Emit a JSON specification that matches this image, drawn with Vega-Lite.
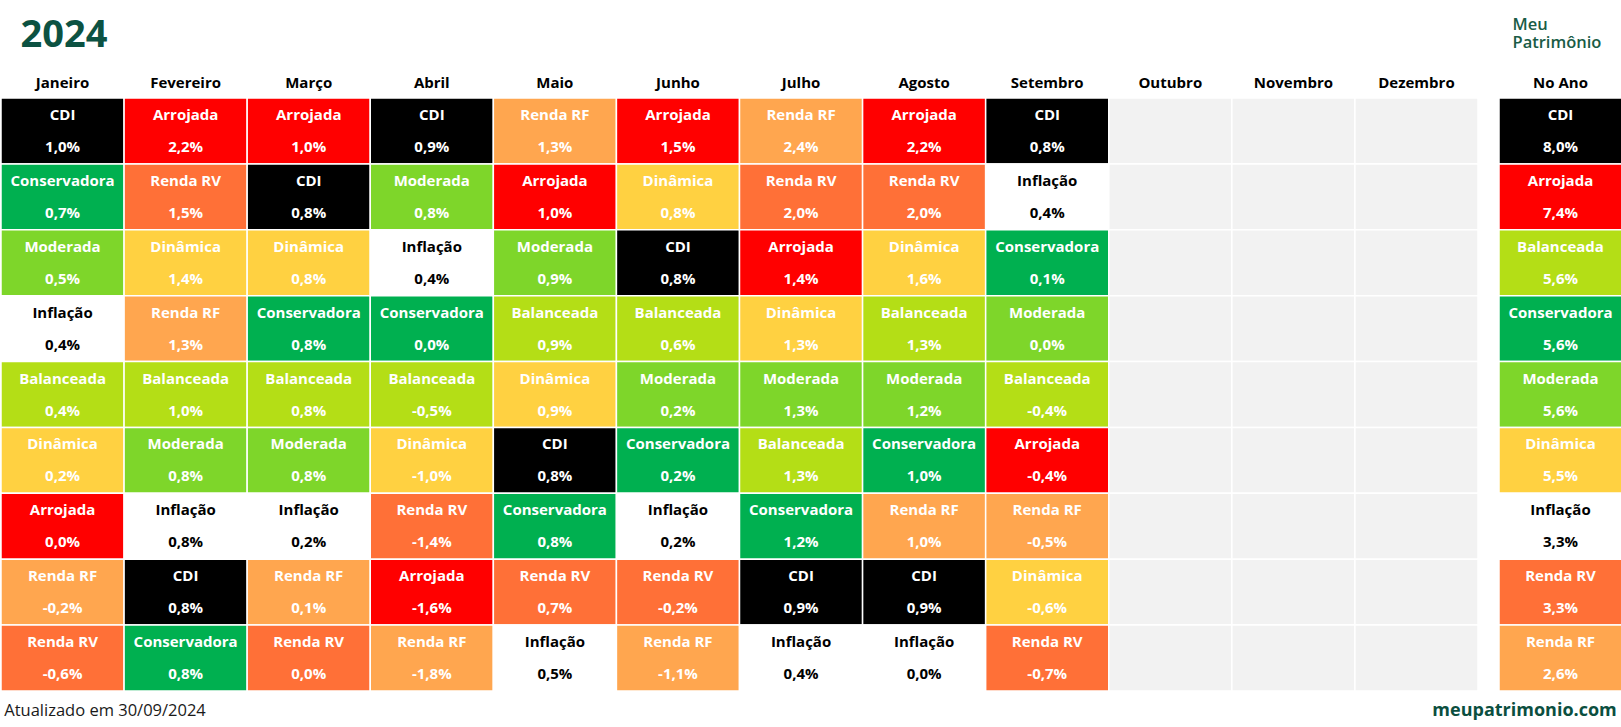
{
  "$schema": "https://vega.github.io/schema/vega-lite/v6.json",
  "padding": {"top": 16, "left": 0, "right": 0, "bottom": 0},
  "autosize": {"type": "pad"},
  "background": "white",
  "bounds": "flush",
  "spacing": 21,
  "config": {
    "font": "Open Sans",
    "view": {"stroke": null},
    "locale": {"number": {"decimal": ",", "thousands": ".", "grouping": [3], "currency": ["R$ ", ""], "minus": "-"}}
  },
  "datasets": {
    "meses": [
      {"mes": "Janeiro", "pos": 1, "nome": "CDI", "ret": 0.010},
      {"mes": "Janeiro", "pos": 2, "nome": "Conservadora", "ret": 0.007},
      {"mes": "Janeiro", "pos": 3, "nome": "Moderada", "ret": 0.005},
      {"mes": "Janeiro", "pos": 4, "nome": "Inflação", "ret": 0.004},
      {"mes": "Janeiro", "pos": 5, "nome": "Balanceada", "ret": 0.004},
      {"mes": "Janeiro", "pos": 6, "nome": "Dinâmica", "ret": 0.002},
      {"mes": "Janeiro", "pos": 7, "nome": "Arrojada", "ret": 0.000},
      {"mes": "Janeiro", "pos": 8, "nome": "Renda RF", "ret": -0.002},
      {"mes": "Janeiro", "pos": 9, "nome": "Renda RV", "ret": -0.006},
      {"mes": "Fevereiro", "pos": 1, "nome": "Arrojada", "ret": 0.022},
      {"mes": "Fevereiro", "pos": 2, "nome": "Renda RV", "ret": 0.015},
      {"mes": "Fevereiro", "pos": 3, "nome": "Dinâmica", "ret": 0.014},
      {"mes": "Fevereiro", "pos": 4, "nome": "Renda RF", "ret": 0.013},
      {"mes": "Fevereiro", "pos": 5, "nome": "Balanceada", "ret": 0.010},
      {"mes": "Fevereiro", "pos": 6, "nome": "Moderada", "ret": 0.008},
      {"mes": "Fevereiro", "pos": 7, "nome": "Inflação", "ret": 0.008},
      {"mes": "Fevereiro", "pos": 8, "nome": "CDI", "ret": 0.008},
      {"mes": "Fevereiro", "pos": 9, "nome": "Conservadora", "ret": 0.008},
      {"mes": "Março", "pos": 1, "nome": "Arrojada", "ret": 0.010},
      {"mes": "Março", "pos": 2, "nome": "CDI", "ret": 0.008},
      {"mes": "Março", "pos": 3, "nome": "Dinâmica", "ret": 0.008},
      {"mes": "Março", "pos": 4, "nome": "Conservadora", "ret": 0.008},
      {"mes": "Março", "pos": 5, "nome": "Balanceada", "ret": 0.008},
      {"mes": "Março", "pos": 6, "nome": "Moderada", "ret": 0.008},
      {"mes": "Março", "pos": 7, "nome": "Inflação", "ret": 0.002},
      {"mes": "Março", "pos": 8, "nome": "Renda RF", "ret": 0.001},
      {"mes": "Março", "pos": 9, "nome": "Renda RV", "ret": 0.000},
      {"mes": "Abril", "pos": 1, "nome": "CDI", "ret": 0.009},
      {"mes": "Abril", "pos": 2, "nome": "Moderada", "ret": 0.008},
      {"mes": "Abril", "pos": 3, "nome": "Inflação", "ret": 0.004},
      {"mes": "Abril", "pos": 4, "nome": "Conservadora", "ret": 0.000},
      {"mes": "Abril", "pos": 5, "nome": "Balanceada", "ret": -0.005},
      {"mes": "Abril", "pos": 6, "nome": "Dinâmica", "ret": -0.010},
      {"mes": "Abril", "pos": 7, "nome": "Renda RV", "ret": -0.014},
      {"mes": "Abril", "pos": 8, "nome": "Arrojada", "ret": -0.016},
      {"mes": "Abril", "pos": 9, "nome": "Renda RF", "ret": -0.018},
      {"mes": "Maio", "pos": 1, "nome": "Renda RF", "ret": 0.013},
      {"mes": "Maio", "pos": 2, "nome": "Arrojada", "ret": 0.010},
      {"mes": "Maio", "pos": 3, "nome": "Moderada", "ret": 0.009},
      {"mes": "Maio", "pos": 4, "nome": "Balanceada", "ret": 0.009},
      {"mes": "Maio", "pos": 5, "nome": "Dinâmica", "ret": 0.009},
      {"mes": "Maio", "pos": 6, "nome": "CDI", "ret": 0.008},
      {"mes": "Maio", "pos": 7, "nome": "Conservadora", "ret": 0.008},
      {"mes": "Maio", "pos": 8, "nome": "Renda RV", "ret": 0.007},
      {"mes": "Maio", "pos": 9, "nome": "Inflação", "ret": 0.005},
      {"mes": "Junho", "pos": 1, "nome": "Arrojada", "ret": 0.015},
      {"mes": "Junho", "pos": 2, "nome": "Dinâmica", "ret": 0.008},
      {"mes": "Junho", "pos": 3, "nome": "CDI", "ret": 0.008},
      {"mes": "Junho", "pos": 4, "nome": "Balanceada", "ret": 0.006},
      {"mes": "Junho", "pos": 5, "nome": "Moderada", "ret": 0.002},
      {"mes": "Junho", "pos": 6, "nome": "Conservadora", "ret": 0.002},
      {"mes": "Junho", "pos": 7, "nome": "Inflação", "ret": 0.002},
      {"mes": "Junho", "pos": 8, "nome": "Renda RV", "ret": -0.002},
      {"mes": "Junho", "pos": 9, "nome": "Renda RF", "ret": -0.011},
      {"mes": "Julho", "pos": 1, "nome": "Renda RF", "ret": 0.024},
      {"mes": "Julho", "pos": 2, "nome": "Renda RV", "ret": 0.020},
      {"mes": "Julho", "pos": 3, "nome": "Arrojada", "ret": 0.014},
      {"mes": "Julho", "pos": 4, "nome": "Dinâmica", "ret": 0.013},
      {"mes": "Julho", "pos": 5, "nome": "Moderada", "ret": 0.013},
      {"mes": "Julho", "pos": 6, "nome": "Balanceada", "ret": 0.013},
      {"mes": "Julho", "pos": 7, "nome": "Conservadora", "ret": 0.012},
      {"mes": "Julho", "pos": 8, "nome": "CDI", "ret": 0.009},
      {"mes": "Julho", "pos": 9, "nome": "Inflação", "ret": 0.004},
      {"mes": "Agosto", "pos": 1, "nome": "Arrojada", "ret": 0.022},
      {"mes": "Agosto", "pos": 2, "nome": "Renda RV", "ret": 0.020},
      {"mes": "Agosto", "pos": 3, "nome": "Dinâmica", "ret": 0.016},
      {"mes": "Agosto", "pos": 4, "nome": "Balanceada", "ret": 0.013},
      {"mes": "Agosto", "pos": 5, "nome": "Moderada", "ret": 0.012},
      {"mes": "Agosto", "pos": 6, "nome": "Conservadora", "ret": 0.010},
      {"mes": "Agosto", "pos": 7, "nome": "Renda RF", "ret": 0.010},
      {"mes": "Agosto", "pos": 8, "nome": "CDI", "ret": 0.009},
      {"mes": "Agosto", "pos": 9, "nome": "Inflação", "ret": 0.000},
      {"mes": "Setembro", "pos": 1, "nome": "CDI", "ret": 0.008},
      {"mes": "Setembro", "pos": 2, "nome": "Inflação", "ret": 0.004},
      {"mes": "Setembro", "pos": 3, "nome": "Conservadora", "ret": 0.001},
      {"mes": "Setembro", "pos": 4, "nome": "Moderada", "ret": 0.000},
      {"mes": "Setembro", "pos": 5, "nome": "Balanceada", "ret": -0.004},
      {"mes": "Setembro", "pos": 6, "nome": "Arrojada", "ret": -0.004},
      {"mes": "Setembro", "pos": 7, "nome": "Renda RF", "ret": -0.005},
      {"mes": "Setembro", "pos": 8, "nome": "Dinâmica", "ret": -0.006},
      {"mes": "Setembro", "pos": 9, "nome": "Renda RV", "ret": -0.007},
      {"mes": "Outubro", "pos": 1, "nome": ""}, {"mes": "Outubro", "pos": 2, "nome": ""}, {"mes": "Outubro", "pos": 3, "nome": ""},
      {"mes": "Outubro", "pos": 4, "nome": ""}, {"mes": "Outubro", "pos": 5, "nome": ""}, {"mes": "Outubro", "pos": 6, "nome": ""},
      {"mes": "Outubro", "pos": 7, "nome": ""}, {"mes": "Outubro", "pos": 8, "nome": ""}, {"mes": "Outubro", "pos": 9, "nome": ""},
      {"mes": "Novembro", "pos": 1, "nome": ""}, {"mes": "Novembro", "pos": 2, "nome": ""}, {"mes": "Novembro", "pos": 3, "nome": ""},
      {"mes": "Novembro", "pos": 4, "nome": ""}, {"mes": "Novembro", "pos": 5, "nome": ""}, {"mes": "Novembro", "pos": 6, "nome": ""},
      {"mes": "Novembro", "pos": 7, "nome": ""}, {"mes": "Novembro", "pos": 8, "nome": ""}, {"mes": "Novembro", "pos": 9, "nome": ""},
      {"mes": "Dezembro", "pos": 1, "nome": ""}, {"mes": "Dezembro", "pos": 2, "nome": ""}, {"mes": "Dezembro", "pos": 3, "nome": ""},
      {"mes": "Dezembro", "pos": 4, "nome": ""}, {"mes": "Dezembro", "pos": 5, "nome": ""}, {"mes": "Dezembro", "pos": 6, "nome": ""},
      {"mes": "Dezembro", "pos": 7, "nome": ""}, {"mes": "Dezembro", "pos": 8, "nome": ""}, {"mes": "Dezembro", "pos": 9, "nome": ""}
    ],
    "ano": [
      {"col": "No Ano", "pos": 1, "nome": "CDI", "ret": 0.080},
      {"col": "No Ano", "pos": 2, "nome": "Arrojada", "ret": 0.074},
      {"col": "No Ano", "pos": 3, "nome": "Balanceada", "ret": 0.056},
      {"col": "No Ano", "pos": 4, "nome": "Conservadora", "ret": 0.056},
      {"col": "No Ano", "pos": 5, "nome": "Moderada", "ret": 0.056},
      {"col": "No Ano", "pos": 6, "nome": "Dinâmica", "ret": 0.055},
      {"col": "No Ano", "pos": 7, "nome": "Inflação", "ret": 0.033},
      {"col": "No Ano", "pos": 8, "nome": "Renda RV", "ret": 0.033},
      {"col": "No Ano", "pos": 9, "nome": "Renda RF", "ret": 0.026}
    ]
  },
  "hconcat": [
    {
      "width": 1477,
      "height": 593,
      "data": {"name": "meses"},
      "title": {"text": "Atualizado em 30/09/2024", "orient": "bottom", "anchor": "start", "fontSize": 16.5, "fontWeight": "normal", "color": "#1a1a1a", "offset": 11, "dx": 4},
      "encoding": {
        "x": {
          "field": "mes", "type": "nominal",
          "sort": ["Janeiro", "Fevereiro", "Março", "Abril", "Maio", "Junho", "Julho", "Agosto", "Setembro", "Outubro", "Novembro", "Dezembro"],
          "scale": {"paddingInner": 0, "paddingOuter": 0},
          "axis": {
            "orient": "top", "labelAngle": 0, "ticks": false, "tickSize": 0, "domain": false,
            "labelFontSize": 15, "labelFontWeight": "bold", "labelColor": "#000000", "labelPadding": 8,
            "title": "2024", "titleFontSize": 38, "titleFontWeight": "bold", "titleColor": "#0C5242",
            "titleAnchor": "start", "titleAlign": "left", "titleX": 19, "titlePadding": 21
          }
        },
        "y": {"field": "pos", "type": "ordinal", "axis": null, "scale": {"paddingInner": 0, "paddingOuter": 0}}
      },
      "layer": [
        {
          "mark": {"type": "rect", "stroke": "white", "strokeWidth": 1.5},
          "encoding": {
            "color": {
              "field": "nome", "type": "nominal", "legend": null,
              "scale": {
                "domain": ["CDI", "Arrojada", "Renda RF", "Renda RV", "Conservadora", "Moderada", "Balanceada", "Dinâmica", "Inflação", ""],
                "range": ["#000000", "#FF0000", "#FFA64F", "#FF7037", "#00B050", "#7ED62A", "#B4DE16", "#FFD141", "#FFFFFF", "#F2F2F2"]
              }
            }
          }
        },
        {
          "transform": [{"filter": "datum.nome !== ''"}],
          "mark": {"type": "text", "fontSize": 15, "fontWeight": "bold", "baseline": "middle", "dy": -16},
          "encoding": {
            "text": {"field": "nome", "type": "nominal"},
            "color": {"condition": {"test": "datum.nome === 'Inflação'", "value": "#000000"}, "value": "#FFFFFF"}
          }
        },
        {
          "transform": [{"filter": "datum.nome !== ''"}],
          "mark": {"type": "text", "fontSize": 15, "fontWeight": "bold", "baseline": "middle", "dy": 16},
          "encoding": {
            "text": {"field": "ret", "type": "quantitative", "format": ".1%"},
            "color": {"condition": {"test": "datum.nome === 'Inflação'", "value": "#000000"}, "value": "#FFFFFF"}
          }
        }
      ]
    },
    {
      "width": 123,
      "height": 593,
      "data": {"name": "ano"},
      "title": {"text": "meupatrimonio.com", "orient": "bottom", "anchor": "end", "fontSize": 18, "fontWeight": "bold", "color": "#0B4F40", "offset": 10, "dx": -6},
      "encoding": {
        "x": {
          "field": "col", "type": "nominal",
          "scale": {"paddingInner": 0, "paddingOuter": 0},
          "axis": {
            "orient": "top", "labelAngle": 0, "ticks": false, "tickSize": 0, "domain": false,
            "labelFontSize": 15, "labelFontWeight": "bold", "labelColor": "#000000", "labelPadding": 8,
            "title": ["Meu", "Patrimônio"], "titleFontSize": 16.5, "titleFontWeight": 600, "titleColor": "#1A5C46",
            "titleLineHeight": 18, "titleAnchor": "start", "titleAlign": "left", "titleX": 13, "titlePadding": 25
          }
        },
        "y": {"field": "pos", "type": "ordinal", "axis": null, "scale": {"paddingInner": 0, "paddingOuter": 0}}
      },
      "layer": [
        {
          "mark": {"type": "rect", "stroke": "white", "strokeWidth": 1.5},
          "encoding": {
            "color": {
              "field": "nome", "type": "nominal", "legend": null,
              "scale": {
                "domain": ["CDI", "Arrojada", "Renda RF", "Renda RV", "Conservadora", "Moderada", "Balanceada", "Dinâmica", "Inflação", ""],
                "range": ["#000000", "#FF0000", "#FFA64F", "#FF7037", "#00B050", "#7ED62A", "#B4DE16", "#FFD141", "#FFFFFF", "#F2F2F2"]
              }
            }
          }
        },
        {
          "mark": {"type": "text", "fontSize": 15, "fontWeight": "bold", "baseline": "middle", "dy": -16},
          "encoding": {
            "text": {"field": "nome", "type": "nominal"},
            "color": {"condition": {"test": "datum.nome === 'Inflação'", "value": "#000000"}, "value": "#FFFFFF"}
          }
        },
        {
          "mark": {"type": "text", "fontSize": 15, "fontWeight": "bold", "baseline": "middle", "dy": 16},
          "encoding": {
            "text": {"field": "ret", "type": "quantitative", "format": ".1%"},
            "color": {"condition": {"test": "datum.nome === 'Inflação'", "value": "#000000"}, "value": "#FFFFFF"}
          }
        }
      ]
    }
  ]
}
